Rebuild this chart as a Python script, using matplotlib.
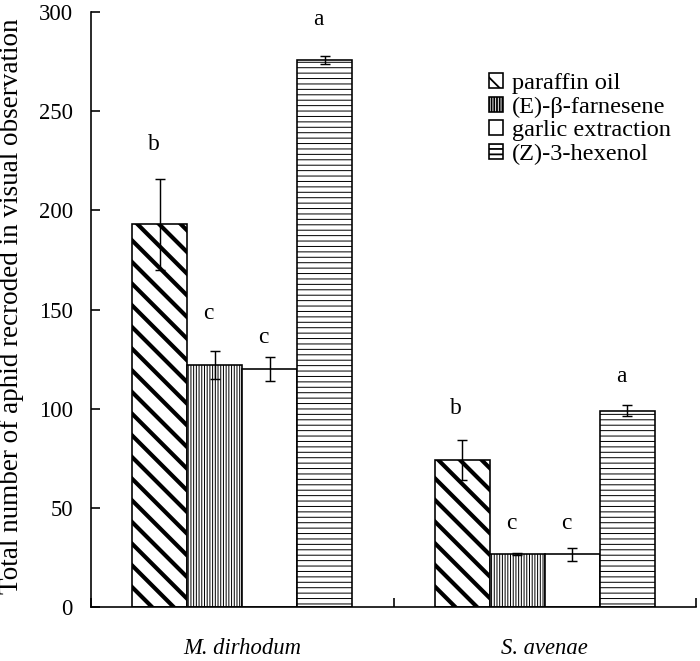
import numpy as np
import matplotlib
matplotlib.use('Agg')
import matplotlib.pyplot as plt

# values
species = ['M. dirhodum', 'S. avenae']
treatments = ['paraffin oil', '(E)-β-farnesene', 'garlic extraction', '(Z)-3-hexenol']
means = [[193, 122, 120, 276],
         [74, 26.5, 26.5, 99]]
errs = [[23, 7, 6, 2],
        [10, 0.5, 3.3, 2.7]]
letters = [['b', 'c', 'c', 'a'],
           ['b', 'c', 'c', 'a']]
letter_y = [[233, 148, 136, 296],
            [100, 42, 42, 116]]

hatches = ['\\\\', '||||||||', '', '----']
hatch_lw = [2.3, 0.55, 0.55, 0.55]

DPI = 130
plt.rcParams['font.family'] = ['Liberation Serif', 'DejaVu Serif']
plt.rcParams['hatch.color'] = 'black'

fig = plt.figure(figsize=(700 / DPI, 661 / DPI), dpi=DPI)
ax = fig.add_axes([0.13, 0.0817, 0.8643, 0.9001])

w = 0.182
xc = np.arange(len(species)) + 0.5
for j in range(len(treatments)):
    vals = [means[i][j] for i in range(len(species))]
    ee = [errs[i][j] for i in range(len(species))]
    xs = xc + (j - 1.5) * w
    with plt.rc_context({'hatch.linewidth': hatch_lw[j]}):
        bars = ax.bar(xs, vals, w, color='white', edgecolor='black', linewidth=0.9,
                      hatch=hatches[j], label=treatments[j], zorder=2)
    for b in bars:
        try:
            b.set_hatch_linewidth(hatch_lw[j])
        except AttributeError:
            pass
    ax.errorbar(xs, vals, yerr=ee, fmt='none', ecolor='black', elinewidth=0.8,
                capsize=2.6, capthick=0.8, zorder=3)
    for i in range(len(species)):
        # letters sit a little left of the bar centre in the original
        ax.annotate(letters[i][j], (xs[i], letter_y[i][j]), xytext=(-3.5, 0),
                    textcoords='offset points', ha='center', va='center', fontsize=13)

ax.set_xlim(0, 2)
ax.set_ylim(0, 300)
ax.set_yticks(np.arange(0, 301, 50))
ax.set_xticks([0, 1, 2])
ax.set_xticklabels([])
ax.set_xticks(xc, minor=True)
ax.set_xticklabels(species, minor=True, fontstyle='italic', fontsize=12.5)
ax.tick_params(axis='x', which='minor', length=0, pad=17)
ax.tick_params(axis='x', which='major', direction='in', length=5, width=0.9)
ax.tick_params(axis='y', direction='in', length=5, width=0.9, labelsize=12.5, pad=10)
for s in ['top', 'right']:
    ax.spines[s].set_visible(False)
for s in ['left', 'bottom']:
    ax.spines[s].set_linewidth(0.9)

fig.text(0.017, 1 - 306 / 661, 'Total number of aphid recroded in visual observation',
         rotation=90, ha='center', va='center', fontsize=15)

leg = ax.legend(loc='upper left', bbox_to_anchor=(0.658, 0.897), frameon=False,
                fontsize=13.5, handlelength=0.55, handleheight=0.55,
                handletextpad=0.4, labelspacing=0.1, borderpad=0, borderaxespad=0)

fig.savefig('out.png', dpi=DPI)
